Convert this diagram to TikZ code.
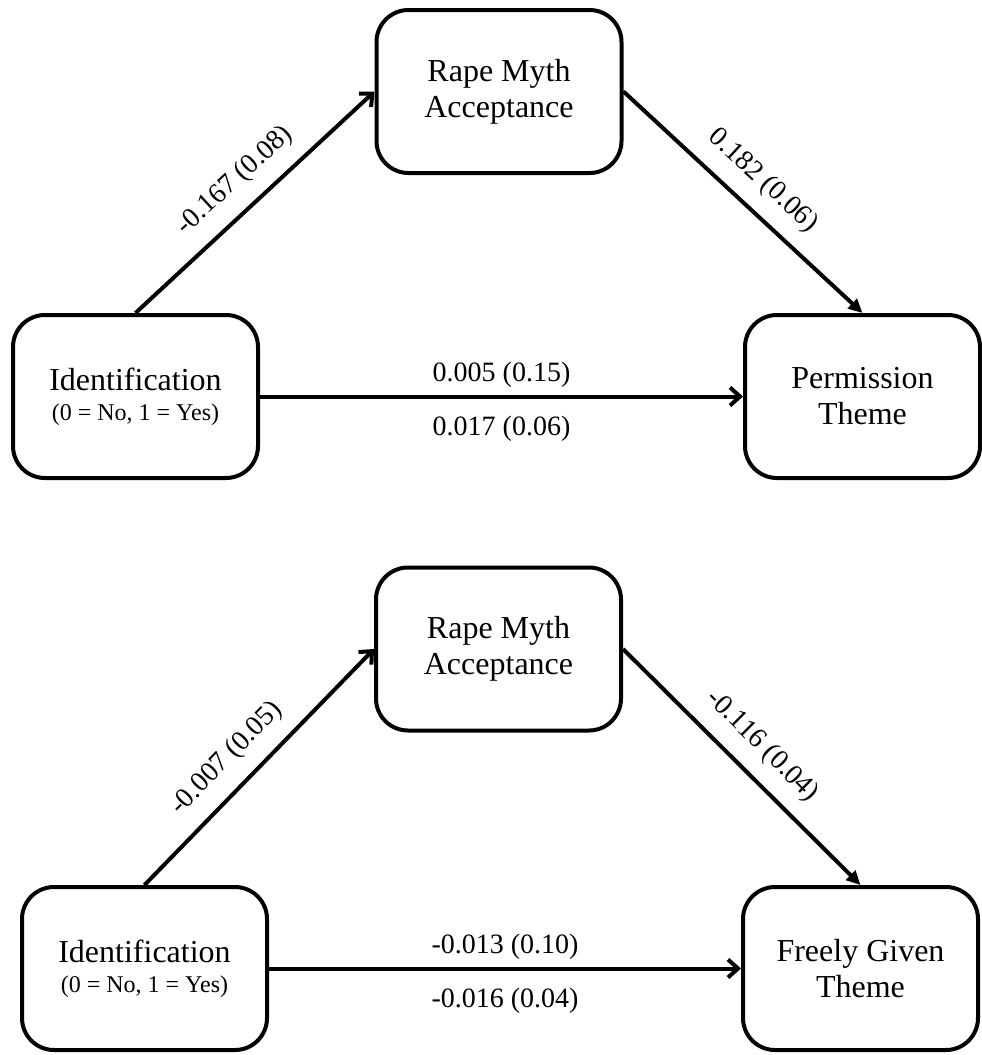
\documentclass[tikz,border=0pt]{standalone}
\usepackage{fontspec}
\setmainfont{Liberation Serif}
\usetikzlibrary{arrows.meta, positioning, calc}

\begin{document}
\begin{tikzpicture}[>={Straight Barb[length=5pt,width=9pt]},line width=2pt]
  \tikzstyle{box}=[draw=black,fill=white,rounded corners=16pt,minimum width=122.5pt,minimum height=81.5pt,align=center,font=\fontsize{16}{18}\selectfont]
  \tikzstyle{coef}=[font=\fontsize{14}{16}\selectfont]
  \tikzstyle{filled}=[-{Triangle[length=7pt,width=6.5pt]}]

  \path[use as bounding box,fill=white] (0,0) rectangle (490.5pt,-527.5pt);

  % permission model
  \node[box] (id1) at (67.75pt,-198.25pt) {Identification\\[-3pt]{\fontsize{12}{14}\selectfont (0 = No, 1 = Yes)}};
  \node[box,minimum width=117.5pt] (perm) [right=241.5pt of id1] {Permission\\Theme};
  \node[box] (rma1) at ($(id1)!0.5!(perm)+(0,152.5pt)$) {Rape Myth\\Acceptance};

  \path[->] (id1.north) edge node[coef,sloped,above=4pt] {-0.167 (0.08)} (rma1.west)
            (rma1.east) edge[filled] node[coef,sloped,above=4pt] {0.182 (0.06)} (perm.north)
            (id1) edge node[coef,above=0pt] {0.005 (0.15)} node[coef,below=5.5pt] {0.017 (0.06)} (perm);

  % freely given model
  \node[box] (id2) [below=202.5pt of id1,xshift=4.5pt] {Identification\\[-3pt]{\fontsize{12}{14}\selectfont (0 = No, 1 = Yes)}};
  \node[box,minimum width=117.5pt] (free) [right=236pt of id2] {Freely Given\\Theme};
  \node[box] (rma2) at ($(id2)!0.5!(free)+(-2pt,159.75pt)$) {Rape Myth\\Acceptance};

  \path[->] (id2.north) edge node[coef,sloped,above=4pt,pos=0.45] {-0.007 (0.05)} (rma2.west)
            (rma2.east) edge[filled] node[coef,sloped,above=4pt] {-0.116 (0.04)} (free.north)
            (id2) edge node[coef,above=0pt] {-0.013 (0.10)} node[coef,below=5.5pt] {-0.016 (0.04)} (free);
\end{tikzpicture}
\end{document}
